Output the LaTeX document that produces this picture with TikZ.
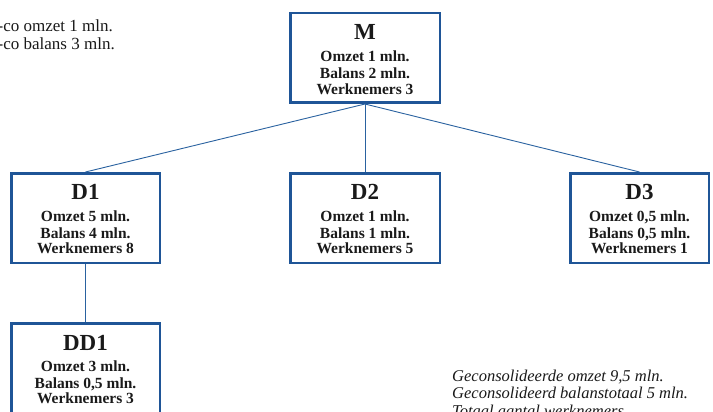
\documentclass[tikz,border=0pt]{standalone}
\usepackage{fontspec}
\setmainfont{Liberation Serif}
\definecolor{boxblue}{HTML}{1F5597}
\definecolor{lineblue}{HTML}{2A62A0}
\definecolor{txt}{HTML}{1A1A1A}
\tikzset{
  orgbox/.style={draw=boxblue, line width=2.5pt, fill=white, rectangle, inner sep=0pt, minimum height=89.5pt},
  conn/.style={draw=lineblue, line width=0.9pt},
  ttl/.style={anchor=base, inner sep=0pt, text=txt, font=\fontsize{23}{25}\selectfont\bfseries},
  row/.style={anchor=base, inner sep=0pt, text=txt, font=\fontsize{15.5}{17}\selectfont\bfseries},
  note/.style={anchor=base west, inner sep=0pt, text=txt, font=\fontsize{17}{18}\selectfont},
  inote/.style={anchor=base west, inner sep=0pt, text=txt, font=\fontsize{16.5}{18}\selectfont\itshape},
}
\begin{document}
\begin{tikzpicture}[x=1pt, y=-1pt]
\useasboundingbox (0,0) rectangle (713,412);
\clip (0,0) rectangle (713,412);
\fill[white] (0,0) rectangle (713,412);

% boxes
\node[orgbox, minimum width=149.5pt] (M) at (365,58) {};
\node[orgbox, minimum width=148.5pt] (D1) at (85.5,218) {};
\node[orgbox, minimum width=149.5pt] (D2) at (365,218) {};
\node[orgbox, minimum width=138.5pt] (D3) at (639.5,218) {};
\node[orgbox, minimum width=148.5pt] (DD1) at (85.5,368) {};

% connectors
\draw[conn] (M.south) -- (D1.north);
\draw[conn] (M.south) -- (D2.north);
\draw[conn] (M.south) -- (D3.north);
\draw[conn] (D1.south) -- (DD1.north);

% box texts
\node[ttl] (Mt) at (365,40) {M};
\node[row] (Ma) at (365,62) {Omzet 1 mln.};
\node[row] (Mb) at (365,79) {Balans 2 mln.};
\node[row] (Mc) at (365,95) {Werknemers 3};

\node[ttl] (D1t) at (85.5,199) {D1};
\node[row] (D1a) at (85.5,221) {Omzet 5 mln.};
\node[row] (D1b) at (85.5,238) {Balans 4 mln.};
\node[row] (D1c) at (85.5,253) {Werknemers 8};

\node[ttl] (D2t) at (365,199) {D2};
\node[row] (D2a) at (365,221) {Omzet 1 mln.};
\node[row] (D2b) at (365,238) {Balans 1 mln.};
\node[row] (D2c) at (365,253) {Werknemers 5};

\node[ttl] (D3t) at (639.5,199) {D3};
\node[row] (D3a) at (639.5,221) {Omzet 0,5 mln.};
\node[row] (D3b) at (639.5,238) {Balans 0,5 mln.};
\node[row] (D3c) at (639.5,253) {Werknemers 1};

\node[ttl] (DD1t) at (85.5,350.5) {DD1};
\node[row] (DD1a) at (85.5,371) {Omzet 3 mln.};
\node[row] (DD1b) at (85.5,388) {Balans 0,5 mln.};
\node[row] (DD1c) at (85.5,403) {Werknemers 3};

% notes
\node[note] (n1) at (-2.5,32) {-co omzet 1 mln.};
\node[note] (n2) at (-2.5,50) {-co balans 3 mln.};

\node[inote] (g1) at (452,381) {Geconsolideerde omzet 9,5 mln.};
\node[inote] (g2) at (452,398.5) {Geconsolideerd balanstotaal 5 mln.};
\node[inote] (g3) at (452,416) {Totaal aantal werknemers};
\end{tikzpicture}
\end{document}
